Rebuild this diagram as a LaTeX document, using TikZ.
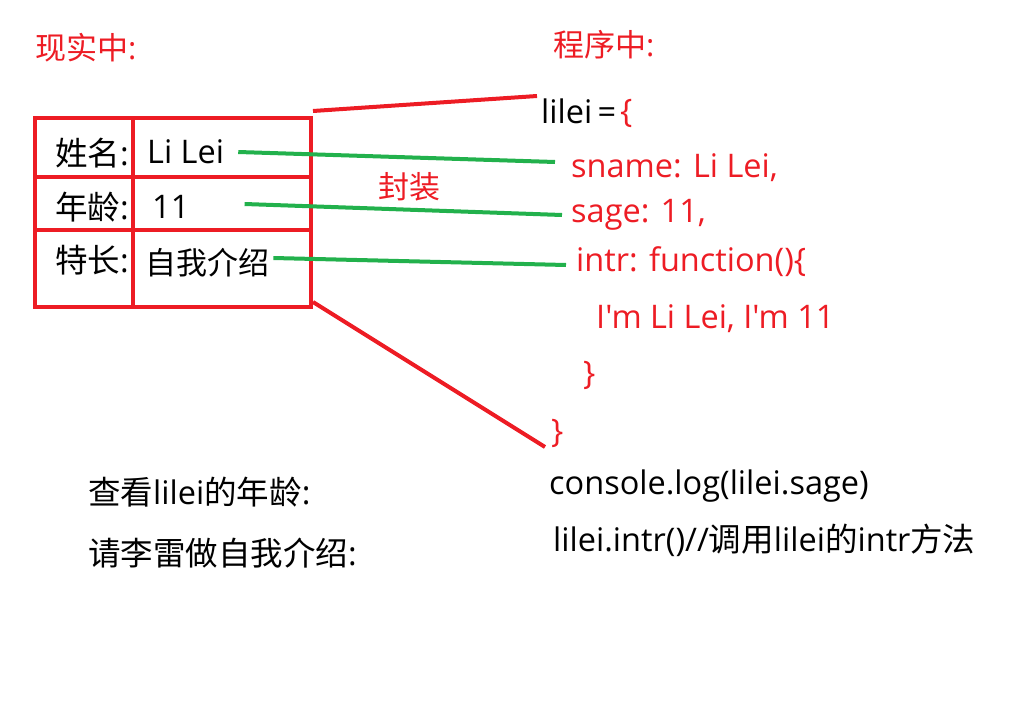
\documentclass[tikz,border=0pt]{standalone}
\usepackage{fontspec}
\setmainfont{Open Sans}[Ligatures=TeXOff]
\newfontfamily\cjk{Noto Sans CJK SC}
\usetikzlibrary{positioning,calc}
\definecolor{paintred}{HTML}{ED1C24}
\definecolor{paintgreen}{HTML}{22B14C}

\begin{document}
\begin{tikzpicture}[
  x=1pt,y=-1pt,
  font=\fontsize{32.5}{38}\selectfont,
  txt/.style={inner sep=0pt,anchor=west,text=black},
  code/.style={inner sep=0pt,anchor=west,text=paintred},
  tbl/.style={draw=paintred,line width=4pt,minimum width=276pt,minimum height=189pt,inner sep=0pt},
  frame/.style={draw=paintred,line width=4pt},
  link/.style={draw=paintgreen,line width=4pt}
]
\useasboundingbox (0,0) rectangle (1018,712);
% the table
\node[tbl] (card) at (173,212.5) {};
\draw[frame] (133,118) -- (133,307);
\draw[frame] (35,177) -- (311,177);
\draw[frame] (35,230) -- (311,230);
\node[code,font=\fontsize{31}{36}\selectfont] (real) at (35,48) {{\cjk 现实中}:};
\node[code,font=\fontsize{31}{36}\selectfont] (prog) at (553,45) {{\cjk 程序中}:};
\node[txt] (k1) at (55,153) {{\cjk 姓名}:};
\node[txt] (v1) at (147,152) {Li Lei};
\node[txt] (k2) at (55,207) {{\cjk 年龄}:};
\node[txt] (v2) at (152,207) {11};
\node[txt] (k3) at (55,260) {{\cjk 特长}:};
\node[txt,font=\fontsize{31}{36}\selectfont] (v3) at (145,263) {\cjk 自我介绍};
\node[code,font=\fontsize{31}{36}\selectfont] (pack) at (378,187) {\cjk 封装};
% the object
\node[txt] (obj) at (541,111) {lilei\,=};
\node[code] (open) at (620,113) {\{};
\node[code] (sname) at (571,168) {sname: Li Lei,};
\node[code] (sage) at (571,215) {sage: 11,};
\node[code] (intr) at (576,262) {intr: function()\{};
\node[code] (body) at (596,319) {I'm Li Lei, I'm 11};
\node[code] (inclose) at (583,375) {\}};
\node[code] (close) at (551,433) {\}};
% usage
\node[txt] (q1) at (88,492) {{\cjk 查看}lilei{\cjk 的年龄}:};
\node[txt] (q2) at (88,553) {{\cjk 请李雷做自我介绍}:};
\node[txt] (a1) at (549,486) {console.log(lilei.sage)};
\node[txt] (a2) at (553,540) {lilei.intr()//{\cjk 调用}lilei{\cjk 的}intr{\cjk 方法}};
% wrapping lines
\draw[frame] ([yshift=5pt]card.north east) -- ([xshift=-4pt,yshift=15pt]obj.west);
\draw[frame] ([yshift=7pt]card.south east) -- ([xshift=-6pt,yshift=-14pt]close.west);
\draw[link] ([xshift=14pt]v1.east) -- ([xshift=-16pt,yshift=6pt]sname.west);
\draw[link] ([xshift=55pt,yshift=3pt]v2.east) -- ([xshift=-9pt]sage.west);
\draw[link] ([xshift=4pt,yshift=5pt]v3.east) -- ([xshift=-10pt,yshift=-3pt]intr.west);
\end{tikzpicture}
\end{document}
